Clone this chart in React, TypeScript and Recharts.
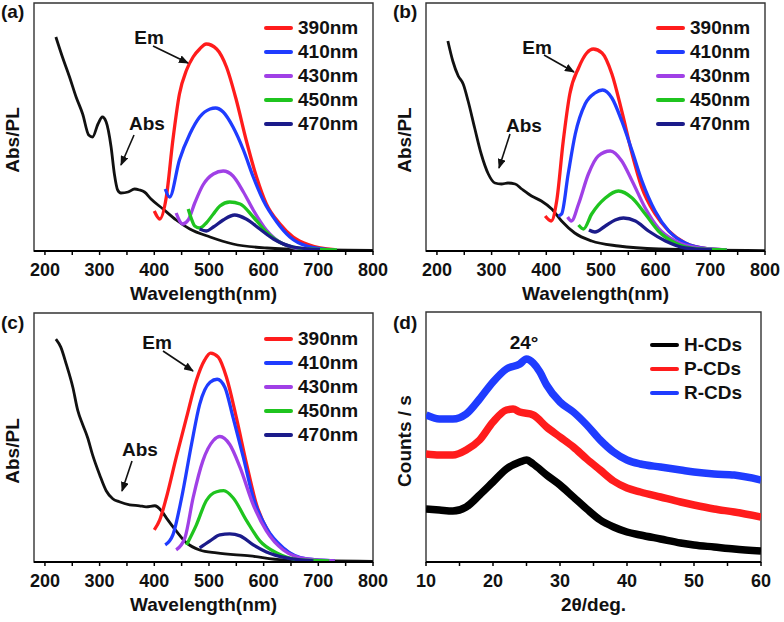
import React from 'react';
import { LineChart, Line, XAxis, YAxis, ReferenceArea, Legend } from 'recharts';

const FONT = '"Liberation Sans", Arial, Helvetica, sans-serif';

type P = [number, number];

// ---------- Tick labels / categories ----------
const wlTicks = [200, 250, 300, 350, 400, 450, 500, 550, 600, 650, 700, 750, 800];
const thetaTicks = [10, 15, 20, 25, 30, 35, 40, 45, 50, 55, 60];
const emLabels = ['390nm', '410nm', '430nm', '450nm', '470nm'];
const emColors = ['#ff1c1c', '#1f3cff', '#a040e6', '#1fc41f', '#1b1b8a'];
const xrdLabels = ['H-CDs', 'P-CDs', 'R-CDs'];
const xrdColors = ['#000000', '#ff1c1c', '#1f3cff'];

// ---------- Panel (a) ----------
const aAbs: P[] = [[220,214],[232,194],[245,174],[257,154],[269,137],[280,116],[287,114],[297,127],[305,134],[312,129],[321,104],[327,77],[333,61],[339,58],[352,59],[364,62],[373,61],[382,59],[394,52],[416,42],[440,31],[465,22],[502,14],[544,7],[606,3],[697,1.3],[800,0.7]];
const aEm390: P[] = [[400,40],[410,32],[422,54],[434,111],[446,157],[459,181],[471,194],[483,202],[495,207],[514,202],[532,184],[550,151],[568,111],[587,74],[605,47],[630,27],[654,14],[684,6],[730,1.3]];
const aEm410: P[] = [[420,62],[428,54],[446,91],[465,117],[483,134],[502,142],[512,143],[526,139],[544,124],[563,101],[581,74],[599,51],[624,29],[648,14],[679,5],[730,1]];
const aEm430: P[] = [[440,38],[452,27],[462,31],[474,48],[489,66],[508,77],[526,80],[544,75],[563,59],[581,41],[605,21],[636,7],[679,1.3],[730,0.8]];
const aEm450: P[] = [[462,42],[468,32],[474,25],[483,23],[495,28],[508,37],[520,45],[538,49],[557,47],[581,34],[605,19],[636,7],[679,2],[734,1]];
const aEm470: P[] = [[483,22],[495,20],[508,24],[526,31],[547,36],[568,32],[593,22],[618,12],[654,4],[703,1.3]];

// ---------- Panel (b) ----------
const bAbs: P[] = [[220,210],[229,190],[239,175],[248,167],[257,150],[269,123],[281,97],[294,77],[306,68],[318,67],[330,68],[343,67],[355,62],[373,55],[391,50],[410,42],[428,30],[452,18],[483,10],[532,5],[606,2],[800,0.3]];
const bEm390: P[] = [[398,35],[409,30],[419,50],[431,110],[443,157],[459,183],[474,198],[486,202],[502,198],[520,177],[538,140],[557,97],[575,63],[599,37],[624,20],[654,8],[697,2],[730,1]];
const bEm410: P[] = [[422,35],[428,37],[440,77],[453,117],[471,147],[489,158],[503,161],[520,153],[538,130],[557,100],[575,70],[599,40],[624,20],[654,8],[697,2],[730,1]];
const bEm430: P[] = [[439,34],[446,30],[459,47],[477,77],[495,95],[517,100],[538,90],[557,70],[581,43],[605,23],[636,10],[679,3],[730,1]];
const bEm450: P[] = [[459,26],[468,22],[483,37],[508,53],[532,60],[557,53],[581,37],[605,20],[636,8],[679,2],[730,1]];
const bEm470: P[] = [[478,21],[489,19],[508,25],[526,31],[541,33],[563,30],[587,20],[618,10],[654,3],[703,1]];

// ---------- Panel (c) ----------
const cAbs: P[] = [[220,222],[229,214],[239,197],[251,174],[260,151],[269,137],[278,124],[287,107],[300,87],[312,71],[324,63],[336,60],[355,57],[373,56],[385,55],[401,56],[413,51],[422,44],[440,31],[459,19],[483,12],[514,9],[575,6],[636,2],[800,0.7]];
const cEm390: P[] = [[400,32],[410,42],[422,64],[440,104],[459,144],[477,181],[492,201],[503,208],[517,204],[532,184],[550,144],[569,97],[587,57],[612,27],[642,11],[679,2],[730,1]];
const cEm410: P[] = [[420,17],[434,27],[450,64],[468,117],[483,157],[502,179],[515,182],[529,174],[544,144],[563,104],[581,64],[605,34],[636,14],[679,3],[730,1]];
const cEm430: P[] = [[440,12],[456,24],[471,64],[489,101],[508,121],[520,125],[538,117],[557,94],[581,57],[605,31],[636,12],[679,3],[730,1]];
const cEm450: P[] = [[459,17],[477,37],[495,61],[514,70],[527,71],[544,64],[569,41],[593,21],[624,9],[667,2],[720,1]];
const cEm470: P[] = [[483,14],[502,21],[520,27],[538,28],[557,26],[581,17],[605,10],[642,4],[691,1]];

// ---------- Panel (d) ----------
const dH: P[] = [[10,53],[12,52],[14,51],[16,55],[18,67],[20,80],[22,93],[24,100],[25,102],[26,98],[28,87],[30,77],[32,65],[34,53],[36,42],[38,35],[40,30],[42,27],[45,23],[48,19],[50,17],[53,15],[56,13],[60,11]];
const dP: P[] = [[10,108],[12,107],[14,107],[16,112],[18,122],[20,140],[22,152],[23,153],[24,150],[26,147],[28,135],[30,125],[32,115],[34,103],[36,92],[38,81],[40,74],[42,70],[45,65],[48,60],[50,57],[53,53],[56,50],[60,45]];
const dR: P[] = [[10,147],[12,143],[14,143],[16,148],[18,163],[20,180],[22,193],[24,198],[25,203],[26,199],[27,190],[28,177],[30,160],[32,150],[34,137],[36,122],[38,110],[40,102],[42,98],[45,95],[48,92],[50,90],[53,88],[56,87],[60,82]];

const toPts = (arr: P[]) => arr.map(([x, y]) => ({ x, y }));

type Series = { name: string; color: string; width: number; points: P[] };

const emSeries = (abs: P[], ems: P[][]): Series[] => [
  { name: 'Abs', color: '#111111', width: 2.8, points: abs },
  ...ems.map((pts, i) => ({ name: emLabels[i], color: emColors[i], width: 3.3, points: pts })),
];

type PanelProps = {
  left: number; top: number;
  margin: { top: number; right: number; left: number; bottom: number };
  xDomain: [number, number]; xTicks: number[]; major: number; yMax: number;
  series: Series[]; legend: { label: string; color: string }[];
  legendPos: { left: number; top: number }; xTitle: string;
};

function Panel(p: PanelProps) {
  const tickFmt = (v: number) => (v % p.major === 0 ? String(v) : '');
  return (
    <div style={{ position: 'absolute', left: p.left, top: p.top, width: 392, height: 311 }}>
      <LineChart width={392} height={311} margin={p.margin}>
        <XAxis
          type="number" dataKey="x" domain={p.xDomain} ticks={p.xTicks} interval={0}
          allowDataOverflow tickFormatter={tickFmt} tickSize={4} tickMargin={8} height={60}
          axisLine={{ stroke: '#000', strokeWidth: 2 }} tickLine={{ stroke: '#000', strokeWidth: 1.5 }}
          tick={{ fontSize: 18, fontWeight: 700, fill: '#111', fontFamily: FONT }}
          label={{ value: p.xTitle, position: 'insideBottom', offset: 11, fontSize: 19, fontWeight: 700, fill: '#111', fontFamily: FONT }}
        />
        <YAxis type="number" domain={[0, p.yMax]} width={34} tick={false} axisLine={false} tickLine={false} allowDataOverflow />
        <ReferenceArea x1={p.xDomain[0]} x2={p.xDomain[1]} y1={0} y2={p.yMax} fill="none" stroke="#333" strokeWidth={1.4} ifOverflow="visible" />
        {p.series.map((s) => (
          <Line
            key={s.name} data={toPts(s.points)} dataKey="y" name={s.name} type="monotone"
            stroke={s.color} strokeWidth={s.width} strokeLinejoin="round" dot={false} activeDot={false}
            isAnimationActive={false}
          />
        ))}
        <Legend
          layout="vertical" align="center" verticalAlign="middle"
          wrapperStyle={{ left: p.legendPos.left, top: p.legendPos.top, width: 130, height: p.legend.length * 24 }}
          content={() => (
            <div style={{ fontFamily: FONT, fontWeight: 700, fontSize: 19, color: '#111' }}>
              {p.legend.map((it) => (
                <div key={it.label} style={{ display: 'flex', alignItems: 'center', height: 24 }}>
                  <div style={{ width: 29, height: 4, background: it.color, borderRadius: 2 }} />
                  <span style={{ marginLeft: 5, lineHeight: '24px' }}>{it.label}</span>
                </div>
              ))}
            </div>
          )}
        />
      </LineChart>
    </div>
  );
}

const emLegend = emLabels.map((label, i) => ({ label, color: emColors[i] }));
const xrdLegend = xrdLabels.map((label, i) => ({ label, color: xrdColors[i] }));

function Arrow({ x1, y1, x2, y2 }: { x1: number; y1: number; x2: number; y2: number }) {
  return <line x1={x1} y1={y1} x2={x2} y2={y2} stroke="#111" strokeWidth={1.6} markerEnd="url(#ah)" />;
}

const txt = { fontFamily: FONT, fontWeight: 700, fontSize: 19, fill: '#111' } as const;

export default function App() {
  return (
    <div style={{ position: 'absolute', left: 0, top: 0, width: 784, height: 622, background: '#fff', overflow: 'hidden' }}>
      <Panel left={0} top={0} margin={{ top: 3, right: 19, left: 0, bottom: 0 }} xDomain={[180, 800]} xTicks={wlTicks} major={100} yMax={248}
        series={emSeries(aAbs, [aEm390, aEm410, aEm430, aEm450, aEm470])} legend={emLegend} legendPos={{ left: 264, top: 16 }} xTitle="Wavelength(nm)" />
      <Panel left={392} top={0} margin={{ top: 3, right: 19, left: 0, bottom: 0 }} xDomain={[180, 800]} xTicks={wlTicks} major={100} yMax={248}
        series={emSeries(bAbs, [bEm390, bEm410, bEm430, bEm450, bEm470])} legend={emLegend} legendPos={{ left: 264, top: 16 }} xTitle="Wavelength(nm)" />
      <Panel left={0} top={311} margin={{ top: 2, right: 19, left: 0, bottom: 0 }} xDomain={[180, 800]} xTicks={wlTicks} major={100} yMax={248}
        series={emSeries(cAbs, [cEm390, cEm410, cEm430, cEm450, cEm470])} legend={emLegend} legendPos={{ left: 264, top: 16 }} xTitle="Wavelength(nm)" />
      <Panel left={392} top={311} margin={{ top: 1, right: 23, left: 0, bottom: 0 }} xDomain={[10, 60]} xTicks={thetaTicks} major={10} yMax={250}
        series={[
          { name: 'H-CDs', color: xrdColors[0], width: 7.5, points: dH },
          { name: 'P-CDs', color: xrdColors[1], width: 7.5, points: dP },
          { name: 'R-CDs', color: xrdColors[2], width: 7.5, points: dR },
        ]}
        legend={xrdLegend} legendPos={{ left: 258, top: 22 }} xTitle="2θ/deg." />

      <svg width={784} height={622} style={{ position: 'absolute', left: 0, top: 0, pointerEvents: 'none' }}>
        <defs>
          <marker id="ah" markerUnits="userSpaceOnUse" markerWidth={10} markerHeight={8} refX={9} refY={4} orient="auto">
            <path d="M0,0 L10,4 L0,8 Z" fill="#111" />
          </marker>
        </defs>
        {/* panel letters */}
        <text x={1} y={18} style={txt}>(a)</text>
        <text x={393} y={18} style={txt}>(b)</text>
        <text x={1} y={329} style={txt}>(c)</text>
        <text x={393} y={329} style={txt}>(d)</text>
        {/* y titles */}
        <text x={12} y={140} transform="rotate(-90 12 140)" textAnchor="middle" dominantBaseline="central" style={txt}>Abs/PL</text>
        <text x={404} y={140} transform="rotate(-90 404 140)" textAnchor="middle" dominantBaseline="central" style={txt}>Abs/PL</text>
        <text x={12} y={451} transform="rotate(-90 12 451)" textAnchor="middle" dominantBaseline="central" style={txt}>Abs/PL</text>
        <text x={404} y={441} transform="rotate(-90 404 441)" textAnchor="middle" dominantBaseline="central" style={txt}>Counts / s</text>
        {/* annotations (a) */}
        <text x={149} y={44} textAnchor="middle" style={txt}>Em</text>
        <Arrow x1={153} y1={46} x2={188} y2={63} />
        <text x={147} y={130} textAnchor="middle" style={txt}>Abs</text>
        <Arrow x1={134} y1={135} x2={121} y2={165} />
        {/* annotations (b) */}
        <text x={537} y={54} textAnchor="middle" style={txt}>Em</text>
        <Arrow x1={544} y1={55} x2={574} y2={72} />
        <text x={524} y={132} textAnchor="middle" style={txt}>Abs</text>
        <Arrow x1={510} y1={134} x2={499} y2={168} />
        {/* annotations (c) */}
        <text x={140} y={456} textAnchor="middle" style={txt}>Abs</text>
        <Arrow x1={132} y1={461} x2={122} y2={491} />
        <text x={157} y={349} textAnchor="middle" style={txt}>Em</text>
        <Arrow x1={163} y1={351} x2={193} y2={371} />
        {/* annotation (d) */}
        <text x={524} y={349} textAnchor="middle" style={txt}>24°</text>
      </svg>
    </div>
  );
}
